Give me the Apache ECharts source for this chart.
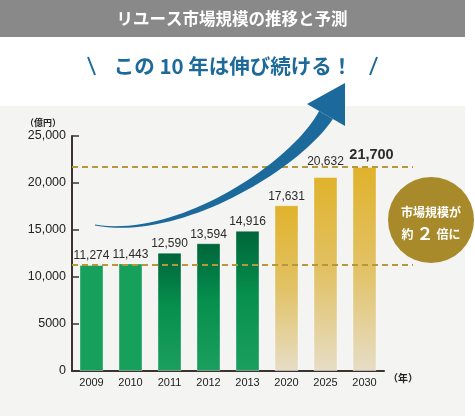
<!DOCTYPE html>
<html>
<head>
<meta charset="utf-8">
<script src="https://cdn.jsdelivr.net/npm/echarts@6/dist/echarts.min.js"></script>
<style>
  html, body { margin: 0; padding: 0; background: #fff; }
  #main { width: 475px; height: 416px; }
</style>
</head>
<body>
<div id="main"></div>
<script>
// data
const years = ['2009', '2010', '2011', '2012', '2013', '2020', '2025', '2030'];
const marketSize = [11274, 11443, 12590, 13594, 14916, 17631, 20632, 21700];
const guideValues = [11274, 21700];
const yMin = 0, yMax = 25000, yStep = 5000;

const titleText = 'リユース市場規模の推移と予測';
const catchText = 'この 10 年は伸び続ける！';
const yUnit = '（億円）';
const xUnit = '（年）';

const jp = '"Noto Sans CJK JP", sans-serif';
const num = '"Liberation Sans", Arial, sans-serif';
const gridLeft = 72, gridRight = 91, gridTop = 136, gridBottom = 45;

function grad(stops) {
  return new echarts.graphic.LinearGradient(0, 0, 0, 1, stops);
}
function barColor(i) {
  if (i < 2) return '#17a05b';
  if (i < 5) return grad([{offset: 0, color: '#00653a'}, {offset: 0.45, color: '#068f4d'}, {offset: 1, color: '#1c9f5e'}]);
  return grad([{offset: 0, color: '#e0b22b'}, {offset: 0.5, color: '#e2c266'}, {offset: 1, color: '#e6ddc6'}]);
}

// swoosh arrow
function cubic(t, a, b, c, d) {
  const u = 1 - t;
  return u * u * u * a + 3 * u * u * t * b + 3 * u * t * t * c + t * t * t * d;
}
function cubicD(t, a, b, c, d) {
  const u = 1 - t;
  return 3 * u * u * (b - a) + 6 * u * t * (c - b) + 3 * t * t * (d - c);
}
function swoosh() {
  const P = [[95, 225], [180, 240], [296, 165], [326, 115]];
  const up = [], lo = [];
  for (let k = 0; k <= 40; k++) {
    const t = k / 40;
    const x = cubic(t, P[0][0], P[1][0], P[2][0], P[3][0]);
    const y = cubic(t, P[0][1], P[1][1], P[2][1], P[3][1]);
    let dx = cubicD(t, P[0][0], P[1][0], P[2][0], P[3][0]);
    let dy = cubicD(t, P[0][1], P[1][1], P[2][1], P[3][1]);
    const l = Math.sqrt(dx * dx + dy * dy);
    dx /= l; dy /= l;
    const w = (1 + 15 * Math.pow(t, 1.3)) / 2;
    up.push([x + dy * w, y - dx * w]);
    lo.push([x - dy * w, y + dx * w]);
  }
  return up.concat(lo.reverse());
}

const chart = echarts.init(document.getElementById('main'));

const option = {
  backgroundColor: '#ffffff',
  animation: false,
  grid: {left: gridLeft, right: gridRight, top: gridTop, bottom: gridBottom, containLabel: false},
  xAxis: {
    type: 'category',
    data: years,
    axisLine: {lineStyle: {color: '#3a3330', width: 2}},
    axisTick: {inside: true, length: 6, lineStyle: {color: '#3a3330', width: 1.5}},
    axisLabel: {color: '#222', fontSize: 11, fontFamily: num, margin: 6}
  },
  yAxis: {
    type: 'value',
    min: yMin, max: yMax, interval: yStep,
    axisLine: {show: true, lineStyle: {color: '#3a3330', width: 2}},
    axisTick: {show: true, inside: true, length: 7, lineStyle: {color: '#3a3330', width: 1.5}},
    splitLine: {show: false},
    axisLabel: {
      color: '#222', fontSize: 12.5, fontFamily: num, margin: 6,
      formatter: function (v) { return v >= 10000 ? v.toLocaleString('en-US') : String(v); }
    }
  },
  series: [{
    type: 'bar',
    barWidth: 24,
    z: 3,
    data: marketSize.map(function (v, i) {
      const last = i === marketSize.length - 1;
      return {
        value: v,
        itemStyle: {color: barColor(i), borderColor: 'rgba(255,255,255,0.35)', borderWidth: 1},
        label: last
          ? {fontSize: 14.5, fontWeight: 'bold', distance: 5, offset: [7, 0]}
          : {fontSize: 12, distance: i === 6 ? 9 : 3}
      };
    }),
    label: {
      show: true, position: 'top',
      color: '#2b2b2b', fontFamily: num, fontWeight: 500,
      formatter: function (p) { return p.value.toLocaleString('en-US'); }
    }
  }],
  graphic: [
    {type: 'rect', z: -10, silent: true, shape: {x: 0, y: 106, width: 465, height: 310}, style: {fill: '#f4f4f2'}},
    {type: 'rect', z: -10, silent: true, shape: {x: 0, y: 0, width: 465, height: 37}, style: {fill: '#898989'}},
    {type: 'text', x: 232, y: 19, style: {text: titleText, fill: '#fff', font: 'bold 16.5px ' + jp, textAlign: 'center', textVerticalAlign: 'middle'}},
    {type: 'text', x: 233, y: 66, style: {text: catchText, fill: '#1d6a9a', font: 'bold 20.5px ' + jp, textAlign: 'center', textVerticalAlign: 'middle'}},
    {type: 'line', shape: {x1: 88, y1: 57, x2: 95, y2: 75}, style: {stroke: '#1d6a9a', lineWidth: 2}},
    {type: 'line', shape: {x1: 377, y1: 57, x2: 370, y2: 75}, style: {stroke: '#1d6a9a', lineWidth: 2}},
    {type: 'text', x: 43, y: 123, style: {text: yUnit, fill: '#222', font: 'bold 9px ' + jp, textAlign: 'center', textVerticalAlign: 'middle'}},
    {type: 'text', x: 388, y: 378, style: {text: xUnit, fill: '#222', font: 'bold 10px ' + jp, textAlign: 'left', textVerticalAlign: 'middle'}},
    {type: 'circle', shape: {cx: 431, cy: 220, r: 43}, style: {fill: '#a98a2b'}},
    {type: 'text', x: 431, y: 212, style: {text: '市場規模が', fill: '#fff', font: 'bold 12px ' + jp, textAlign: 'center', textVerticalAlign: 'middle'}},
    {type: 'text', x: 431, y: 234, style: {
      text: '約{b|２}倍に', fill: '#fff', font: 'bold 12px ' + jp, textAlign: 'center', textVerticalAlign: 'middle',
      rich: {b: {fontSize: 17, fontWeight: 'bold', fill: '#fff', fontFamily: jp, padding: [0, 3]}}
    }}
  ]
};

chart.setOption(option);

// dashed guide lines at the 2009 and 2030 levels, placed through the y scale
const extra = guideValues.map(function (v) {
  const py = Math.round(chart.convertToPixel({yAxisIndex: 0}, v));
  return {
    type: 'line', z: 4, silent: true,
    shape: {x1: gridLeft, y1: py, x2: 413, y2: py},
    style: {stroke: '#b8963c', lineWidth: 2, lineDash: [6, 4]}
  };
});
extra.push({type: 'polygon', z: 5, shape: {points: swoosh()}, style: {fill: '#1c6a9c'}});
extra.push({type: 'polygon', z: 5, shape: {points: [[345, 83], [307, 104], [345, 126]]}, style: {fill: '#1c6a9c'}});

chart.setOption({graphic: option.graphic.concat(extra)});
</script>
</body>
</html>
